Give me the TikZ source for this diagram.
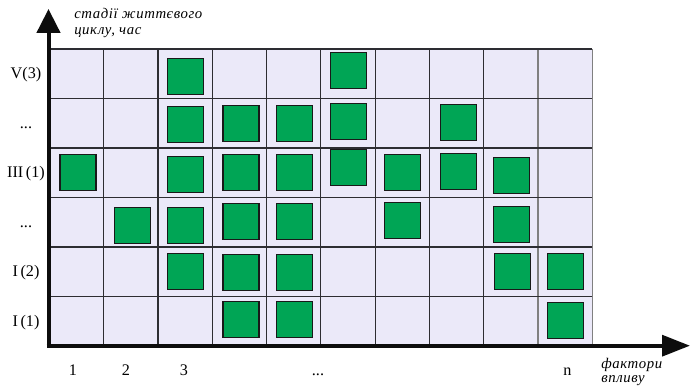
\documentclass[tikz,border=0pt]{standalone}
\usepackage{fontspec}
\setmainfont{Liberation Serif}
\newfontfamily\titlefont[LetterSpace=4]{Liberation Serif}
\usepackage{tikz}
\usetikzlibrary{arrows.meta, positioning, calc}
\definecolor{cellfill}{RGB}{235,233,249}
\definecolor{factorgreen}{RGB}{0,165,85}
\definecolor{gridgray}{RGB}{45,45,50}
\newcommand{\gapdots}{.\kern0pt.\kern0pt.}
\tikzstyle{factor} = [rectangle, draw=black!90, fill=factorgreen, line width=0.9pt, minimum size=9mm, inner sep=0pt]
\tikzstyle{stage} = [font=\fontsize{11.5}{14}\selectfont, anchor=base, inner sep=0pt]
\tikzstyle{axistitle} = [font=\titlefont\itshape\fontsize{10.5}{11.4}\selectfont, align=left, anchor=base west, inner sep=0pt]
\tikzstyle{axis} = [line width=1mm, draw=black!95]

\begin{document}
\begin{tikzpicture}[x=0.25mm, y=-0.25mm]
  \useasboundingbox (0,0) rectangle (696,390);

  % cells
  \fill[cellfill] (49.5,49) rectangle (592.3,346);
  \foreach \i in {0,1,2,3,4,5,6,7,8}
    \draw[gridgray, line width=0.8pt] ({49.5+\i*54.28},49) -- ({49.5+\i*54.28},346);
  \foreach \i in {9,10}
    \draw[gray, line width=0.8pt] ({49.5+\i*54.28},49) -- ({49.5+\i*54.28},346);
  \foreach \j in {0,1,2,3,4,5}
    \draw[gridgray, line width=0.8pt] (49.5,{49+\j*49.5}) -- (592.3,{49+\j*49.5});

  % factors
  \foreach \x/\y [count=\k] in {185.5/76.3, 348.5/70.5,
      185.5/124.7, 241/123.5, 294.2/123.5, 348.5/121.2, 458.5/122.3,
      78/172.2, 185.5/174.5, 241/172.3, 294.2/172.3, 348.5/167.5, 402.8/172.2, 458.5/171.2, 511.5/175.5,
      132.3/225.5, 185.5/225.3, 241/221.7, 294.2/221.7, 402.8/220.7, 511.5/224.2,
      185.5/271.5, 241/272.5, 294.2/272.5, 512.8/271.5, 565.8/271.5,
      241/319.2, 294.2/319.2, 565.8/320.2}
    \node[factor] (f\k) at (\x,\y) {};

  % axes
  \coordinate (origin) at (48.5,347.7);
  \coordinate (xstart) at (46.5,345.7);
  \coordinate (ytip) at (48.5,9);
  \coordinate (xtip) at (690,345.7);
  \draw[axis, -{Triangle[length=6mm,width=5.8mm]}] (origin) -- (ytip);
  \draw[axis, -{Triangle[length=7mm,width=5.2mm]}] (xstart) -- (xtip);

  % stages
  \foreach \t/\y [count=\k] in {V(3)/78.75, \gapdots/128.25, III\,(1)/177.75, \gapdots/227.25, I\,(2)/276.75, I\,(1)/326.25}
    \node[stage] (s\k) at (26,\y) {\t};

  % factor numbers
  \foreach \t/\x [count=\k] in {1/73, 2/126, 3/184, \gapdots/318, n/567.5}
    \node[stage] (n\k) at (\x,376) {\t};

  \node[axistitle] (ytitle) at (74,35) {стадії життєвого\\циклу, час};
  \node[axistitle, font=\titlefont\itshape\fontsize{10.5}{10}\selectfont] (xtitle) at (601,382.5) {фактори\\впливу};
\end{tikzpicture}
\end{document}
